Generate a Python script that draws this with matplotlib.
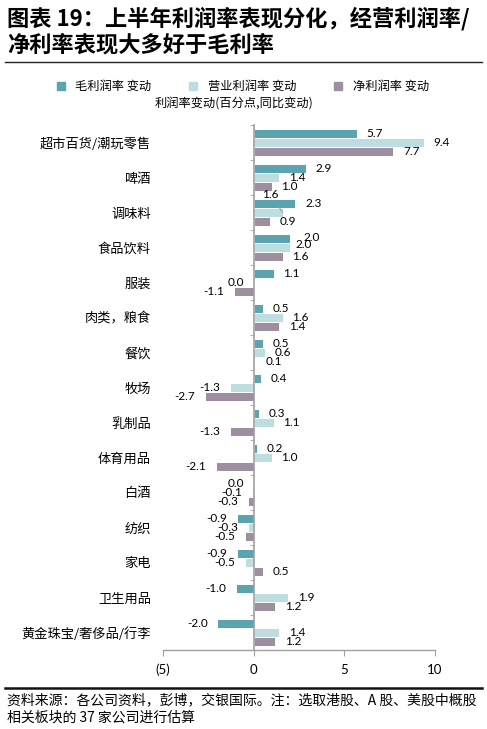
import matplotlib
matplotlib.use("Agg")
import matplotlib.pyplot as plt
from matplotlib.lines import Line2D
from matplotlib.ticker import FuncFormatter, MultipleLocator
import numpy as np

plt.rcParams['font.family'] = ['Lato', 'Noto Sans CJK SC', 'DejaVu Sans']

categories = ["超市百货/潮玩零售", "啤酒", "调味料", "食品饮料", "服装", "肉类，粮食", "餐饮",
              "牧场", "乳制品", "体育用品", "白酒", "纺织", "家电", "卫生用品", "黄金珠宝/奢侈品/行李"]
gross = [5.7, 2.9, 2.3, 2.0, 1.1, 0.5, 0.5, 0.4, 0.3, 0.2, 0.0, -0.9, -0.9, -1.0, -2.0]
operating = [9.4, 1.4, 1.6, 2.0, 0.0, 1.6, 0.6, -1.3, 1.1, 1.0, -0.1, -0.3, -0.5, 1.9, 1.4]
net = [7.7, 1.0, 0.9, 1.6, -1.1, 1.4, 0.1, -2.7, -1.3, -2.1, -0.3, -0.5, 0.5, 1.2, 1.2]
series_names = ["毛利润率 变动", "营业利润率 变动", "净利润率 变动"]
colors = ["#5BA3AE", "#BEDDE1", "#9E8FA0"]

fig = plt.figure(figsize=(4.87, 7.29), dpi=100)
ax = fig.add_axes([0.3347, 0.1084, 0.5585, 0.7201])

y = np.arange(len(categories))
h = 0.257
# a few labels sit a little off the usual spot in the original
label_shift = {(0, "食品饮料"): (10, 1), (1, "食品饮料"): (4, 2)}
for k, vals in enumerate([gross, operating, net]):
    pos = y + (k - 1) * h
    ax.barh(pos, vals, height=h, color=colors[k], edgecolor="white", linewidth=0.7, zorder=2)
    for i, (p, v) in enumerate(zip(pos, vals)):
        if k == 1 and categories[i] == "调味料":
            # label pushed off the bar with a leader line
            ax.annotate(f"{v:.1f}", xy=(v, p), xytext=(-9, 13), textcoords="offset points",
                        ha="center", va="center", fontsize=8.5,
                        arrowprops=dict(arrowstyle="-", color="#A0A0A0", lw=0.8,
                                        shrinkA=4, shrinkB=0))
            continue
        if v > 0:
            off = label_shift.get((k, categories[i]), (7, 0))
            ax.annotate(f"{v:.1f}", xy=(v, p), xytext=off, textcoords="offset points",
                        ha="left", va="center", fontsize=8.5)
        else:
            ax.annotate(f"{v:.1f}", xy=(v, p), xytext=(-7, 0), textcoords="offset points",
                        ha="right", va="center", fontsize=8.5)

ax.set_xlim(-5, 10)
ax.set_ylim(len(categories) - 0.5, -0.5)
ax.xaxis.set_major_locator(MultipleLocator(5))
ax.xaxis.set_major_formatter(FuncFormatter(lambda v, p: f"({abs(v):.0f})" if v < 0 else f"{v:.0f}"))

ax.spines["top"].set_visible(False)
ax.spines["right"].set_visible(False)
ax.spines["left"].set_position(("data", 0))
ax.spines["left"].set_color("#A0A0A0")
ax.spines["left"].set_linewidth(1.2)
ax.spines["left"].set_zorder(3)
ax.spines["bottom"].set_color("#A0A0A0")
ax.spines["bottom"].set_linewidth(1.0)

ax.set_yticks(y)
ax.set_yticklabels(categories, fontsize=9.5, family=['Noto Sans CJK SC'])
ax.set_yticks(np.arange(-0.5, len(categories) + 0.5, 1), minor=True)
ax.tick_params(axis="y", which="major", length=0, pad=74)
ax.tick_params(axis="y", which="minor", length=3, color="#A0A0A0", direction="out")
ax.tick_params(axis="x", length=4, color="#A0A0A0", labelsize=9.5, pad=6)

# legend and axis title
handles = [Line2D([], [], marker="s", linestyle="none", markersize=6, markerfacecolor=c,
                  markeredgecolor=c) for c in colors]
fig.legend(handles, series_names, loc="center", bbox_to_anchor=(0.49, 0.881), ncol=3,
           frameon=False, handletextpad=0.2, columnspacing=2.4,
           prop={"family": ["Noto Sans CJK SC"], "size": 8.8})
fig.text(0.48, 0.857, "利润率变动(百分点,同比变动)", ha="center", va="center", fontsize=8.8,
         family=["Noto Sans CJK SC"])

# title
fig.text(0.014, 0.975, "图表 19：上半年利润率表现分化，经营利润率/", ha="left", va="center",
         fontsize=16, fontweight="bold", family=["Noto Sans CJK SC"])
fig.text(0.014, 0.938, "净利率表现大多好于毛利率", ha="left", va="center",
         fontsize=16, fontweight="bold", family=["Noto Sans CJK SC"])
fig.add_artist(Line2D([0.01, 0.99], [0.915, 0.915], color="#222222", lw=1.0))

# footer
fig.add_artist(Line2D([0.01, 0.99], [0.056, 0.056], color="#111111", lw=1.8))
fig.text(0.014, 0.040, "资料来源：各公司资料，彭博，交银国际。注：选取港股、A 股、美股中概股",
         ha="left", va="center", fontsize=10, family=["Noto Sans CJK SC"])
fig.text(0.014, 0.015, "相关板块的 37 家公司进行估算",
         ha="left", va="center", fontsize=10, family=["Noto Sans CJK SC"])

fig.savefig("out.png", dpi=100)
